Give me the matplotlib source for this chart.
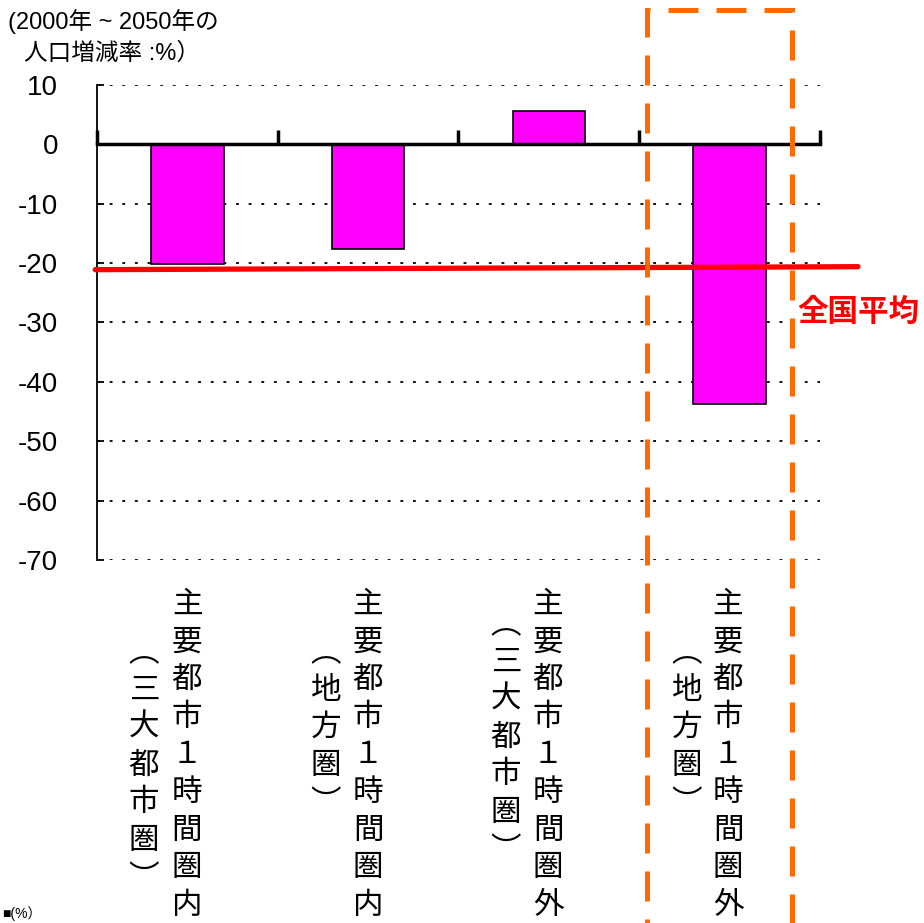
import matplotlib
matplotlib.use('Agg')
import matplotlib.pyplot as plt
from matplotlib.patches import Rectangle

plt.rcParams['font.family'] = ['Liberation Sans', 'Noto Sans CJK JP', 'DejaVu Sans']

# data
categories = ['主要都市１時間圏内', '主要都市１時間圏内', '主要都市１時間圏外', '主要都市１時間圏外']
sub_labels = ['︵三大都市圏︶', '︵地方圏︶', '︵三大都市圏︶', '︵地方圏︶']
values = [-20.2, -17.7, 5.7, -43.8]
national_avg = [-21.1, -20.6]   # left end, right end of the red line
yticks = [10, 0, -10, -20, -30, -40, -50, -60, -70]

W, H = 924, 923
fig = plt.figure(figsize=(W / 100, H / 100), dpi=100)
ax = fig.add_axes([97 / W, 1 - 560 / H, (820 - 97) / W, (560 - 85) / H])

x = list(range(len(values)))
ax.set_xlim(-0.5, 3.5)
ax.set_ylim(-70, 10)

# dotted grid
for yv in yticks:
    if yv != 0:
        ax.axhline(yv, color='black', lw=1.3, linestyle=(0, (1.6, 5.4)), zorder=1)

ax.bar(x, values, width=0.4, color='#FF00FF', edgecolor='black', linewidth=1.2, zorder=3)

for s in ['top', 'right']:
    ax.spines[s].set_visible(False)
ax.spines['bottom'].set_position(('data', 0))
ax.spines['bottom'].set_linewidth(2.5)
ax.spines['bottom'].set_zorder(4)
ax.spines['left'].set_linewidth(1.3)

ax.set_xticks([-0.5, 0.5, 1.5, 2.5, 3.5])
ax.set_xticklabels([])
ax.tick_params(axis='x', direction='in', length=10, width=2.5)
ax.set_yticks(yticks)
ax.set_yticklabels([str(v) for v in yticks], fontsize=20)
ax.tick_params(axis='y', direction='in', length=5, width=1.3, pad=28)

# national average line
ax.plot([-0.51, 3.71], national_avg, color='red', lw=3.8, solid_capstyle='round',
        clip_on=False, zorder=5)
fig.text(797 / W, 1 - 313 / H, '全国平均', color='red', fontsize=22, fontweight='bold',
         va='center', ha='left')

# y label
fig.text(8 / W, 1 - 22 / H, '(2000年 ~ 2050年の', fontsize=17, va='center', ha='left')
fig.text(24 / W, 1 - 53 / H, '人口増減率 :%）', fontsize=17, va='center', ha='left')

# vertical category labels
main_x = [187, 368, 548, 728]
sub_x = [144, 326, 506, 687]
sub_top = [653, 653, 625, 653]
step = 37.6
for i in range(len(categories)):
    for j, ch in enumerate(categories[i]):
        fig.text(main_x[i] / W, 1 - (605 + j * step) / H, ch, fontsize=22,
                 ha='center', va='center')
    for j, ch in enumerate(sub_labels[i]):
        fig.text(sub_x[i] / W, 1 - (sub_top[i] + j * step) / H, ch, fontsize=22,
                 ha='center', va='center')

fig.text(2 / W, 1 - 921 / H, '■(%）', fontsize=10, va='bottom', ha='left')

# orange dashed highlight box
fig.patches.append(Rectangle((647 / W, -0.05), (792 - 647) / W, 1.05 - 10 / H,
                             transform=fig.transFigure, fill=False, edgecolor='#FF6A00',
                             lw=3.6, linestyle=(0, (6, 3.6)), zorder=6))

fig.savefig('out.png', dpi=100)
